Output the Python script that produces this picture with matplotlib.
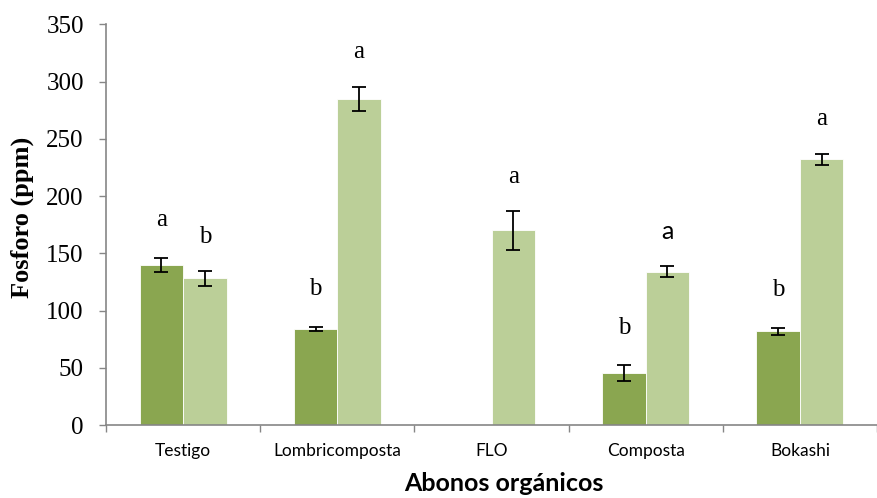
import matplotlib.pyplot as plt
import numpy as np

# datos
categorias = ['Testigo', 'Lombricomposta', 'FLO', 'Composta', 'Bokashi']
oscuro = [140, 84, np.nan, 45, 82]
oscuro_err = [6, 1.5, 0, 7, 3]
claro = [128, 285, 170, 134, 232]
claro_err = [6.5, 10.5, 17, 5, 5]
letras_oscuro = ['a', 'b', '', 'b', 'b']
letras_claro = ['b', 'a', 'a', 'a', 'a']

c_oscuro = '#8AA650'
c_claro = '#BBCF98'
gris = '#868686'

fig = plt.figure(figsize=(877 / 100, 498 / 100), dpi=100)
ax = fig.add_axes([106 / 877, 1 - 425 / 498, 771 / 877, (425 - 24.3) / 498])

x = np.arange(len(categorias))
w = 0.282
ax.bar(x - w / 2, oscuro, w, color=c_oscuro, edgecolor='white', linewidth=0.6)
ax.bar(x + w / 2, claro, w, color=c_claro, edgecolor='white', linewidth=0.6)
ax.errorbar(x - w / 2, oscuro, yerr=oscuro_err, fmt='none', ecolor='black',
            elinewidth=1.3, capsize=5, capthick=1.3)
ax.errorbar(x + w / 2, claro, yerr=claro_err, fmt='none', ecolor='black',
            elinewidth=1.3, capsize=5, capthick=1.3)

# letras de significancia
for i in range(len(categorias)):
    if letras_oscuro[i]:
        ax.text(x[i] - w / 2, oscuro[i] + oscuro_err[i] + 33, letras_oscuro[i],
                ha='center', va='center', fontsize=18, family='Liberation Serif')
    fam = 'Lato' if categorias[i] == 'Composta' else 'Liberation Serif'
    ax.text(x[i] + w / 2, claro[i] + claro_err[i] + 30, letras_claro[i],
            ha='center', va='center', fontsize=18, family=fam)

ax.set_ylim(0, 350)
ax.set_yticks(range(0, 351, 50))
ax.set_xlim(-0.5, -0.5 + 771 / 156.2)
ax.set_xticks(np.arange(-0.5, 4.6, 1))
ax.set_xticklabels([])
ax.set_xticks(x, minor=True)
ax.set_xticklabels(categorias, minor=True, family='Lato', fontsize=12.5)
ax.tick_params(axis='x', which='minor', length=0, pad=13)
ax.tick_params(axis='x', which='major', length=5, color=gris, width=1)
ax.tick_params(axis='y', length=5, color=gris, width=1, pad=11)
for t in ax.get_yticklabels():
    t.set_family('Liberation Serif')
    t.set_fontsize(18)

for s in ['top', 'right']:
    ax.spines[s].set_visible(False)
for s in ['left', 'bottom']:
    ax.spines[s].set_color(gris)
    ax.spines[s].set_linewidth(1.2)

ax.set_ylabel('Fosforo (ppm)', family='Liberation Serif', fontweight='bold',
              fontsize=19)
ax.yaxis.set_label_coords((34 - 106) / 771, (425 - 217) / 400.7)
fig.text(504 / 877, 1 - 483 / 498, 'Abonos orgánicos', ha='center',
         va='center', family='Lato', fontweight='bold', fontsize=18)

fig.savefig('out.png', dpi=100)
